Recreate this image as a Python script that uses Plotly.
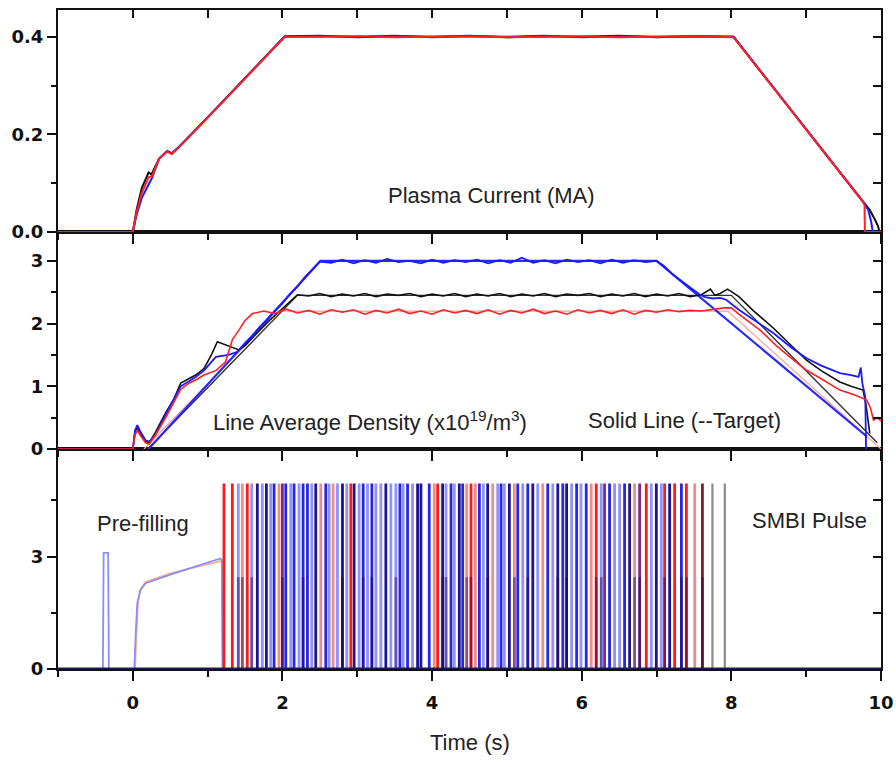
import plotly.graph_objects as go

# ---------------- Data ----------------
# Plasma current (MA)
ip_black_t = [-1.0, -0.3, 0.0, 0.05, 0.12, 0.21, 0.25, 0.35, 0.46, 0.52, 0.60, 1.0, 1.5, 2.03, 2.5, 3.0, 3.5, 4.0, 4.5, 5.0, 5.5, 6.0, 6.5, 7.0, 7.5, 8.03, 8.5, 9.0, 9.5, 9.76, 9.85, 9.92, 9.96, 9.98, 10.0]
ip_black = [0.0, 0.0, 0.0, 0.045, 0.09, 0.122, 0.118, 0.15, 0.166, 0.161, 0.172, 0.235, 0.315, 0.401, 0.402, 0.399, 0.401, 0.400, 0.402, 0.399, 0.401, 0.400, 0.402, 0.399, 0.401, 0.400, 0.308, 0.211, 0.113, 0.062, 0.045, 0.025, 0.012, 0.0, 0.0]
ip_blue_t = [-1.0, -0.3, 0.0, 0.05, 0.12, 0.22, 0.26, 0.35, 0.46, 0.52, 0.60, 1.0, 1.5, 2.03, 2.5, 3.0, 3.5, 4.0, 4.5, 5.0, 5.5, 6.0, 6.5, 7.0, 7.5, 8.03, 8.5, 9.0, 9.5, 9.76, 9.83, 9.87, 9.89, 10.0]
ip_blue = [0.0, 0.0, 0.0, 0.035, 0.07, 0.100, 0.112, 0.15, 0.166, 0.161, 0.172, 0.235, 0.315, 0.400, 0.401, 0.400, 0.402, 0.399, 0.401, 0.400, 0.402, 0.399, 0.401, 0.400, 0.401, 0.400, 0.308, 0.211, 0.113, 0.062, 0.045, 0.020, 0.0, 0.0]
ip_red_t = [-1.0, -0.3, 0.0, 0.05, 0.12, 0.21, 0.26, 0.35, 0.46, 0.52, 0.60, 1.0, 1.5, 2.03, 2.5, 3.0, 3.5, 4.0, 4.5, 5.0, 5.5, 6.0, 6.5, 7.0, 7.5, 8.03, 8.5, 9.0, 9.5, 9.76, 9.78, 9.785, 10.0]
ip_red = [0.0, 0.0, 0.0, 0.04, 0.08, 0.112, 0.115, 0.15, 0.165, 0.160, 0.171, 0.234, 0.314, 0.400, 0.400, 0.401, 0.399, 0.400, 0.401, 0.399, 0.400, 0.401, 0.399, 0.400, 0.401, 0.399, 0.307, 0.210, 0.112, 0.062, 0.055, 0.0, 0.0]

# Line average density (x10^19 /m^3)
ne_blue_t = [-1.0, 0.0, 0.03, 0.06, 0.10, 0.17, 0.22, 0.30, 0.44, 0.55, 0.64, 0.75, 0.84, 0.95, 1.11, 1.28, 1.40,
             1.50, 1.60, 1.70, 1.80, 1.90, 2.00, 2.10, 2.20, 2.30, 2.40, 2.50,
             2.65, 2.80, 2.95, 3.10, 3.25, 3.40, 3.55, 3.70, 3.85, 4.00, 4.15, 4.30, 4.45, 4.60, 4.75,
             4.90, 5.05, 5.20, 5.35, 5.50, 5.65, 5.80, 5.95, 6.10, 6.25, 6.40, 6.55, 6.70, 6.85, 7.00,
             7.10, 7.20, 7.31, 7.40, 7.50, 7.58, 7.65, 7.75, 7.85, 7.93, 8.10, 8.30, 8.56, 8.80, 9.00,
             9.20, 9.45, 9.60, 9.70, 9.73, 9.75, 9.79, 9.80]
ne_blue = [0.0, 0.0, 0.30, 0.38, 0.28, 0.14, 0.12, 0.22, 0.55, 0.80, 1.00, 1.08, 1.15, 1.25, 1.47, 1.50, 1.55,
           1.69, 1.80, 1.95, 2.06, 2.20, 2.32, 2.47, 2.59, 2.74, 2.86, 2.99,
           2.97, 3.02, 2.96, 3.01, 2.97, 3.03, 2.98, 3.00, 2.96, 3.02, 2.97, 3.01, 2.98, 3.02, 2.96,
           3.01, 2.97, 3.05, 2.97, 3.01, 2.96, 3.02, 2.98, 3.01, 2.96, 3.02, 2.97, 3.01, 2.98, 3.00,
           2.92, 2.80, 2.70, 2.62, 2.52, 2.46, 2.42, 2.40, 2.41, 2.38, 2.22, 2.06, 1.85, 1.62, 1.45,
           1.33, 1.21, 1.18, 1.15, 1.30, 1.05, 0.83, 0.0]
ne_black_t = [-1.0, 0.0, 0.03, 0.06, 0.10, 0.17, 0.22, 0.30, 0.44, 0.55, 0.64, 0.75, 0.84, 0.95, 1.05, 1.13, 1.25, 1.37, 1.42,
              1.50, 1.60, 1.70, 1.80, 1.90, 2.00, 2.10, 2.20,
              2.35, 2.50, 2.65, 2.80, 2.95, 3.10, 3.25, 3.40, 3.55, 3.70, 3.85, 4.00, 4.15, 4.30, 4.45, 4.60, 4.75, 4.90,
              5.05, 5.20, 5.35, 5.50, 5.65, 5.80, 5.95, 6.10, 6.25, 6.40, 6.55, 6.70, 6.85, 7.00, 7.15, 7.30, 7.45, 7.60,
              7.72, 7.78, 7.85, 7.95, 8.10, 8.30, 8.56, 8.80, 9.00, 9.20, 9.45, 9.60, 9.76, 9.80, 9.85]
ne_black = [0.0, 0.0, 0.28, 0.34, 0.24, 0.12, 0.10, 0.26, 0.58, 0.80, 1.05, 1.12, 1.18, 1.28, 1.50, 1.71, 1.66, 1.61, 1.58,
            1.65, 1.78, 1.90, 2.02, 2.13, 2.25, 2.35, 2.46,
            2.44, 2.48, 2.43, 2.47, 2.44, 2.48, 2.43, 2.47, 2.45, 2.48, 2.43, 2.47, 2.44, 2.48, 2.43, 2.47, 2.44, 2.48,
            2.43, 2.47, 2.44, 2.48, 2.43, 2.47, 2.45, 2.48, 2.43, 2.47, 2.44, 2.48, 2.43, 2.47, 2.44, 2.48, 2.43, 2.46,
            2.55, 2.45, 2.48, 2.55, 2.43, 2.20, 1.93, 1.65, 1.42, 1.25, 1.07, 1.00, 0.94, 0.70, 0.25]
ne_red_t = [-1.0, 0.0, 0.03, 0.06, 0.10, 0.17, 0.22, 0.30, 0.44, 0.55, 0.64, 0.75, 0.84, 0.95, 1.11, 1.24, 1.33, 1.42, 1.50, 1.60,
            1.75, 1.90, 2.05, 2.20, 2.35, 2.50, 2.65, 2.80, 2.95, 3.10, 3.25, 3.40, 3.55, 3.70, 3.85, 4.00, 4.15, 4.30, 4.45, 4.60,
            4.75, 4.90, 5.05, 5.20, 5.35, 5.50, 5.65, 5.80, 5.95, 6.10, 6.25, 6.40, 6.55, 6.70, 6.85, 7.00, 7.15, 7.30, 7.45, 7.60,
            7.75, 7.90, 8.00, 8.10, 8.38, 8.60, 8.80, 9.00, 9.20, 9.45, 9.65, 9.81, 9.86, 9.90, 9.95, 10.0]
ne_red = [0.0, 0.0, 0.22, 0.30, 0.22, 0.10, 0.08, 0.22, 0.50, 0.74, 0.95, 1.05, 1.10, 1.18, 1.25, 1.39, 1.74, 1.90, 2.05, 2.16,
          2.20, 2.16, 2.23, 2.17, 2.21, 2.15, 2.22, 2.18, 2.22, 2.15, 2.21, 2.17, 2.23, 2.16, 2.20, 2.15, 2.22, 2.17, 2.21, 2.16,
          2.22, 2.15, 2.21, 2.17, 2.23, 2.16, 2.20, 2.15, 2.22, 2.17, 2.21, 2.16, 2.22, 2.15, 2.21, 2.18, 2.22, 2.19, 2.21, 2.20,
          2.22, 2.25, 2.25, 2.15, 1.90, 1.65, 1.45, 1.26, 1.12, 0.94, 0.86, 0.78, 0.65, 0.46, 0.50, 0.45]

target_blue_t = [0.21, 2.51, 7.00, 9.81]
target_blue = [0.0, 3.0, 3.0, 0.2]
target_black_t = [0.20, 2.20, 8.00, 9.95]
target_black = [0.0, 2.45, 2.45, 0.10]
target_red_t = [0.15, 1.95, 7.95, 10.0]
target_red = [0.0, 2.20, 2.20, 0.0]

# Valve signal: pre-filling
prefill_blue_t = [-1.0, -0.40, -0.39, -0.33, -0.32, 0.02, 0.04, 0.06, 0.10, 0.17, 0.50, 0.80, 1.10, 1.17, 1.19, 1.20]
prefill_blue = [0.0, 0.0, 3.1, 3.1, 0.0, 0.0, 1.0, 1.76, 2.10, 2.29, 2.52, 2.72, 2.92, 2.95, 2.90, 0.0]
prefill_red_t = [-1.0, 0.03, 0.05, 0.07, 0.10, 0.17, 0.50, 0.80, 1.10, 1.17, 1.19, 1.20]
prefill_red = [0.0, 0.0, 1.0, 1.80, 2.12, 2.32, 2.55, 2.70, 2.86, 2.88, 2.85, 0.0]
baseline_t = [-1.0, 10.0]
baseline = [0.0, 0.0]

# SMBI pulse times (s), grouped by the colour they show
pulse_red = [1.218, 1.330, 1.530, 2.914, 4.074, 4.520, 6.194, 6.863, 7.108, 7.242, 7.399]
pulse_lightred = [1.464, 1.954, 2.512, 2.677, 4.029, 4.463, 4.578, 4.810, 5.100, 5.479, 6.127, 6.707, 7.510]
pulse_blue = [1.888, 2.044, 2.155, 2.276, 2.334, 2.579, 3.079, 3.195, 3.570, 3.672, 3.962, 4.253, 4.409, 4.632,
              4.922, 5.145, 5.279, 5.546, 5.747, 5.932, 6.060, 6.372, 6.573, 7.332]
pulse_lightblue = [1.410, 1.589, 1.731, 1.843, 2.111, 2.222, 2.392, 2.624, 2.735, 2.860, 3.025, 3.137, 3.249,
                   3.315, 3.449, 3.516, 3.614, 3.739, 4.186, 4.297, 4.685, 4.877, 4.966, 5.212, 5.412, 5.613,
                   5.865, 5.990, 6.261, 6.439, 6.506, 6.930, 7.064]
pulse_navy = [1.664, 1.785, 2.445, 2.802, 2.958, 3.382, 3.806, 3.851, 4.141, 4.364, 4.743, 5.033, 5.346,
              5.680, 5.798, 6.640, 6.997, 7.175]
pulse_purple = [1.999, 6.305, 6.774]
pulse_darkred = [7.613]
pulse_gray = [7.747, 7.912]
pulse_overlap = [1.410, 1.464, 1.589, 1.999, 2.276, 2.802, 3.079, 3.195, 3.516, 4.141, 4.186, 4.463, 4.520,
                 4.743, 5.100, 5.279, 5.680, 5.798, 6.194, 6.261, 6.707, 6.774, 7.108, 7.332, 7.399, 7.613]
pulse_high = 4.95
pulse_low = 2.45

# ---------------- Figure ----------------
fig = go.Figure()

def add_line(x, y, color, width, xa, ya, dash=None):
    fig.add_trace(go.Scatter(x=x, y=y, mode="lines", xaxis=xa, yaxis=ya,
                             line=dict(color=color, width=width, dash=dash),
                             hoverinfo="skip", showlegend=False))

def add_pulses(times, height, color, width=2.8):
    xs, ys = [], []
    for t in times:
        xs += [t, t, None]
        ys += [0, height, None]
    fig.add_trace(go.Scatter(x=xs, y=ys, mode="lines", xaxis="x", yaxis="y",
                             line=dict(color=color, width=width),
                             hoverinfo="skip", showlegend=False))

# top panel
add_line(ip_black_t, ip_black, "#111111", 2, "x3", "y3")
add_line(ip_blue_t, ip_blue, "#1a1aff", 2, "x3", "y3")
add_line(ip_red_t, ip_red, "#ff2020", 2, "x3", "y3")

# middle panel
add_line(target_red_t, target_red, "#ff9a9a", 1.2, "x2", "y2")
add_line(target_black_t, target_black, "#333333", 1.4, "x2", "y2")
add_line(target_blue_t, target_blue, "#2a2aff", 2.2, "x2", "y2")
add_line(ne_black_t, ne_black, "#111111", 1.6, "x2", "y2")
add_line(ne_blue_t, ne_blue, "#1a1aff", 1.8, "x2", "y2")
add_line(ne_red_t, ne_red, "#ff2020", 1.6, "x2", "y2")

# bottom panel
add_line(prefill_red_t, prefill_red, "#ffb08a", 1.8, "x", "y")
add_line(prefill_blue_t, prefill_blue, "#8c8cff", 1.8, "x", "y")
add_pulses(pulse_lightblue, pulse_high, "#9090ff")
add_pulses(pulse_lightred, pulse_high, "#f28c8c")
add_pulses(pulse_blue, pulse_high, "#2626e6")
add_pulses(pulse_red, pulse_high, "#ff1a1a")
add_pulses(pulse_navy, pulse_high, "#1c1490")
add_pulses(pulse_purple, pulse_high, "#7a2a8a")
add_pulses(pulse_darkred, pulse_high, "#8a1a2a")
add_pulses(pulse_gray, pulse_high, "#8a8a8a", 2.2)
add_pulses(pulse_overlap, pulse_low, "rgba(40,0,80,0.45)")
add_line(baseline_t, baseline, "#1c1a5a", 3, "x", "y")

tickfont = dict(family="DejaVu Sans", size=18, color="#111111", weight="bold")
D1, D2 = 0.3338, 0.6631

common_x = dict(range=[-1, 10], tickmode="linear", tick0=0, dtick=2, ticks="outside",
                ticklen=10, tickwidth=2, tickcolor="#111111", showline=True, linewidth=2,
                linecolor="#111111", mirror=True, showgrid=False, zeroline=False, automargin=False,
                minor=dict(dtick=1, ticks="outside", ticklen=6, tickwidth=2, tickcolor="#111111"))
common_y = dict(ticks="outside", ticklen=9, tickwidth=2, tickcolor="#111111", showline=True,
                linewidth=2, linecolor="#111111", mirror=True, showgrid=False, zeroline=False,
                tickfont=tickfont, tickmode="linear", tick0=0, automargin=False)
over_y = dict(ticks="inside", ticklen=8, tickwidth=2, tickcolor="#111111", showticklabels=False,
              showline=False, showgrid=False, zeroline=False, side="right", tickmode="linear", tick0=0,
              automargin=False)

fig.update_layout(
    width=896, height=767,
    margin=dict(l=58, r=15, t=10, b=98),
    paper_bgcolor="white", plot_bgcolor="white",
    xaxis=dict(common_x, anchor="y", domain=[0, 1], tickfont=tickfont, ticklabelstandoff=6),
    xaxis2=dict(common_x, anchor="y2", matches="x", showticklabels=False),
    xaxis3=dict(common_x, anchor="y3", matches="x", showticklabels=False),
    xaxis4=dict(range=[-1, 10], overlaying="x3", anchor="y3", side="top", ticks="inside",
                tickmode="linear", tick0=0, dtick=1, ticklen=8, tickwidth=2, tickcolor="#111111",
                showticklabels=False, showline=False, showgrid=False, zeroline=False, automargin=False),
    yaxis=dict(common_y, anchor="x", domain=[0, D1], range=[0, 5.87], dtick=3,
               minor=dict(dtick=1.5, ticks="outside", ticklen=5, tickwidth=2, tickcolor="#111111")),
    yaxis2=dict(common_y, anchor="x2", domain=[D1, D2], range=[0, 3.46], dtick=1,
                minor=dict(dtick=0.5, ticks="outside", ticklen=5, tickwidth=2, tickcolor="#111111")),
    yaxis3=dict(common_y, anchor="x3", domain=[D2, 1], range=[0, 0.455], dtick=0.2, tickformat=".1f",
                minor=dict(dtick=0.1, ticks="outside", ticklen=5, tickwidth=2, tickcolor="#111111")),
    yaxis4=dict(over_y, overlaying="y", anchor="x", range=[0, 5.87], dtick=1.5),
    yaxis5=dict(over_y, overlaying="y2", anchor="x2", range=[0, 3.46], dtick=0.5),
    yaxis6=dict(over_y, overlaying="y3", anchor="x3", range=[0, 0.455], dtick=0.1),
)

# overlay axes (inside ticks on top / right) need a trace each to be drawn
for xa, ya in [("x4", "y3"), ("x", "y4"), ("x2", "y5"), ("x3", "y6")]:
    fig.add_trace(go.Scatter(x=[None], y=[None], xaxis=xa, yaxis=ya, showlegend=False, hoverinfo="skip"))

txt = dict(family="Liberation Sans, Arial", size=22, color="#222222")
fig.add_annotation(x=3.39, y=0.074, xref="x3", yref="y3", text="Plasma Current (MA)",
                   showarrow=False, xanchor="left", yanchor="middle", font=txt)
fig.add_annotation(x=1.04, y=0.45, xref="x2", yref="y2",
                   text="Line Average Density (x10<sup>19</sup>/m<sup>3</sup>)",
                   showarrow=False, xanchor="left", yanchor="middle", font=txt)
fig.add_annotation(x=6.06, y=0.45, xref="x2", yref="y2", text="Solid Line (--Target)",
                   showarrow=False, xanchor="left", yanchor="middle", font=txt)
fig.add_annotation(x=-0.50, y=3.89, xref="x", yref="y", text="Pre-filling",
                   showarrow=False, xanchor="left", yanchor="middle", font=txt)
fig.add_annotation(x=8.25, y=3.97, xref="x", yref="y", text="SMBI Pulse",
                   showarrow=False, xanchor="left", yanchor="middle", font=txt)
fig.add_annotation(x=0.5, y=-0.111, xref="paper", yref="paper", text="Time (s)",
                   showarrow=False, xanchor="center", yanchor="middle",
                   font=dict(family="Liberation Sans, Arial", size=22, color="#222222"))

fig.write_html("out.html")
